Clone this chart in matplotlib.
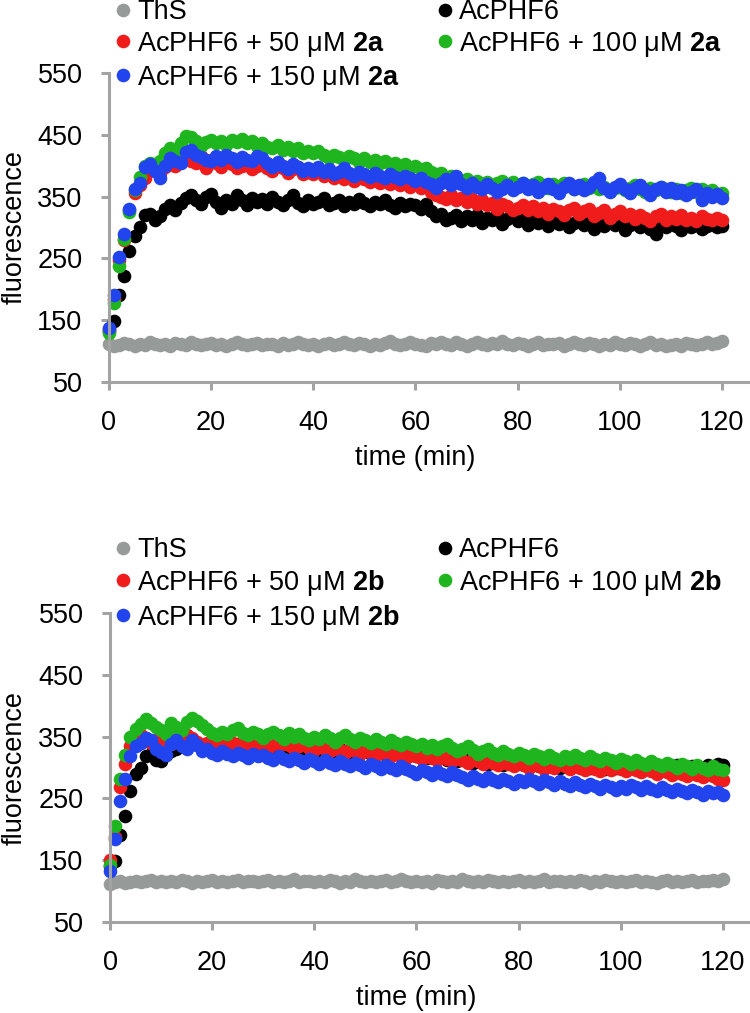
import numpy as np
import matplotlib.pyplot as plt

plt.rcParams['font.family'] = ['Liberation Sans', 'DejaVu Sans']
plt.rcParams['mathtext.fontset'] = 'custom'
plt.rcParams['mathtext.rm'] = 'Liberation Sans'
plt.rcParams['mathtext.bf'] = 'Liberation Sans:bold'

#time points, one reading per minute
time_min = list(range(0, 121))

#panel a (compound 2a), fluorescence
ths_a = [112, 108, 110, 113, 111, 109, 112, 110, 114, 111,
         110, 112, 109, 113, 111, 110, 115, 112, 110, 111,
         113, 110, 112, 109, 111, 114, 112, 110, 111, 113,
         110, 112, 111, 109, 113, 110, 112, 115, 111, 110,
         112, 109, 111, 113, 110, 112, 114, 111, 110, 113,
         111, 109, 112, 110, 113, 116, 112, 110, 111, 114,
         112, 110, 109, 113, 111, 115, 112, 110, 114, 112,
         109, 111, 114, 112, 110, 113, 111, 116, 112, 110,
         113, 111, 109, 112, 114, 110, 112, 111, 113, 109,
         111, 114, 112, 110, 113, 111, 109, 112, 110, 114,
         112, 110, 113, 111, 109, 112, 114, 110, 111, 108,
         110, 112, 109, 113, 111, 110, 112, 114, 111, 113,
         116]
phf6_a = [132, 148, 190, 222, 262, 286, 300, 320, 322, 312,
          318, 330, 336, 328, 340, 348, 352, 345, 338, 350,
          354, 342, 332, 345, 338, 352, 344, 336, 348, 342,
          346, 338, 350, 342, 336, 344, 352, 340, 334, 345,
          338, 342, 348, 336, 340, 345, 334, 342, 338, 346,
          340, 334, 342, 338, 345, 336, 332, 340, 334, 338,
          336, 330, 338, 326, 318, 322, 312, 316, 320, 310,
          318, 312, 320, 308, 316, 312, 322, 306, 314, 318,
          310, 316, 304, 312, 308, 318, 302, 310, 306, 314,
          300, 308, 312, 304, 310, 298, 306, 302, 312, 304,
          308, 296, 304, 310, 300, 306, 298, 290, 304, 300,
          308, 302, 296, 306, 300, 304, 298, 302, 306, 300,
          302]
c50_a = [135, 185, 248, 280, 328, 356, 368, 380, 395, 392,
         388, 398, 402, 400, 412, 418, 408, 404, 415, 396,
         410, 404, 398, 408, 402, 396, 400, 406, 395, 400,
         404, 396, 392, 400, 396, 388, 394, 398, 386, 390,
         386, 392, 384, 388, 380, 386, 378, 384, 376, 382,
         378, 374, 380, 372, 376, 370, 374, 368, 372, 366,
         372, 364, 366, 358, 352, 350, 346, 352, 344, 348,
         342, 346, 338, 344, 336, 340, 330, 338, 334, 328,
         332, 336, 328, 334, 326, 332, 322, 330, 326, 320,
         328, 332, 322, 326, 330, 318, 324, 328, 316, 322,
         326, 318, 322, 314, 320, 316, 310, 318, 322, 312,
         318, 314, 320, 312, 316, 310, 318, 314, 312, 316,
         312]
c100_a = [130, 178, 238, 282, 325, 360, 382, 400, 405, 402,
          408, 420, 428, 422, 436, 448, 446, 440, 432, 438,
          442, 436, 440, 434, 442, 438, 444, 436, 440, 432,
          436, 430, 428, 434, 426, 430, 424, 428, 420, 424,
          420, 424, 418, 412, 418, 414, 410, 416, 412, 406,
          412, 406, 410, 404, 408, 402, 404, 398, 402, 396,
          400, 394, 396, 390, 386, 388, 380, 384, 378, 374,
          378, 372, 376, 370, 374, 368, 372, 376, 370, 374,
          368, 372, 366, 370, 374, 368, 364, 370, 366, 372,
          368, 362, 366, 370, 364, 368, 362, 366, 360, 364,
          366, 360, 364, 368, 362, 358, 364, 360, 366, 362,
          358, 362, 356, 360, 364, 358, 362, 356, 360, 354,
          356]
c150_a = [138, 190, 252, 290, 330, 362, 372, 398, 402, 392,
          380, 400, 412, 408, 404, 422, 426, 418, 414, 410,
          408, 416, 410, 418, 412, 406, 414, 410, 408, 416,
          412, 404, 398, 406, 400, 394, 402, 398, 392, 396,
          392, 398, 390, 394, 386, 390, 396, 388, 384, 390,
          386, 382, 388, 384, 380, 386, 382, 378, 384, 380,
          376, 380, 374, 370, 364, 372, 378, 368, 384, 370,
          364, 372, 366, 362, 370, 364, 358, 362, 368, 360,
          366, 372, 362, 368, 358, 364, 370, 362, 356, 366,
          372, 362, 368, 360, 366, 374, 380, 364, 358, 366,
          370, 362, 356, 364, 368, 360, 352, 362, 366, 358,
          364, 356, 360, 352, 358, 362, 344, 356, 350, 354,
          348]

#panel b (compound 2b)
ths_b = [112, 114, 116, 113, 115, 117, 114, 116, 118, 115,
         117, 114, 116, 115, 118, 116, 113, 117, 115, 116,
         118, 115, 117, 114, 116, 118, 115, 117, 116, 114,
         116, 118, 115, 117, 114, 116, 119, 115, 117, 116,
         114, 117, 115, 118, 116, 113, 117, 115, 119, 116,
         115, 117, 114, 116, 118, 115, 117, 120, 116, 114,
         117, 115, 116, 113, 118, 116, 114, 117, 115, 119,
         116, 114, 117, 115, 118, 116, 114, 117, 115, 116,
         118, 115, 117, 114, 116, 119, 115, 117, 116, 114,
         117, 115, 118, 116, 113, 117, 115, 118, 116, 114,
         117, 115, 116, 118, 114, 117, 115, 113, 116, 118,
         115, 117, 114, 116, 118, 115, 117, 116, 118, 117,
         119]
phf6_b = [140, 148, 190, 222, 262, 290, 300, 318, 322, 312,
          310, 320, 326, 330, 334, 338, 342, 336, 330, 334,
          338, 332, 336, 340, 334, 338, 342, 336, 332, 336,
          334, 330, 336, 332, 328, 334, 330, 326, 332, 328,
          330, 326, 332, 328, 324, 330, 326, 322, 328, 324,
          326, 322, 328, 324, 320, 326, 322, 318, 324, 320,
          318, 322, 316, 320, 314, 318, 312, 316, 310, 314,
          312, 308, 314, 310, 306, 312, 308, 304, 310, 306,
          308, 304, 310, 306, 302, 308, 304, 306, 300, 304,
          306, 302, 308, 304, 300, 306, 302, 298, 304, 300,
          302, 298, 304, 300, 296, 302, 298, 300, 296, 302,
          298, 304, 300, 296, 302, 298, 300, 304, 300, 306,
          304]
c50_b = [150, 188, 268, 305, 335, 350, 352, 348, 340, 345,
         350, 344, 338, 346, 340, 352, 348, 342, 336, 340,
         344, 338, 342, 346, 340, 336, 342, 338, 334, 340,
         336, 332, 338, 334, 340, 336, 330, 334, 338, 332,
         328, 334, 330, 326, 332, 328, 324, 330, 326, 322,
         328, 324, 320, 326, 322, 318, 324, 320, 316, 322,
         318, 314, 320, 316, 312, 318, 314, 310, 316, 312,
         308, 314, 310, 306, 312, 308, 304, 310, 306, 302,
         308, 304, 300, 306, 302, 298, 304, 300, 306, 302,
         298, 304, 300, 296, 302, 298, 294, 300, 296, 302,
         298, 294, 300, 296, 292, 298, 294, 290, 296, 292,
         288, 294, 290, 286, 292, 288, 284, 290, 286, 282,
         280]
c100_b = [142, 206, 282, 320, 350, 362, 370, 378, 372, 366,
          360, 354, 372, 366, 360, 374, 380, 376, 368, 362,
          356, 352, 358, 354, 360, 364, 356, 352, 358, 354,
          348, 354, 358, 352, 346, 356, 350, 354, 348, 344,
          350, 346, 352, 348, 342, 348, 352, 346, 342, 348,
          344, 340, 346, 342, 338, 344, 340, 336, 342, 338,
          334, 338, 332, 336, 330, 334, 338, 332, 326, 330,
          334, 328, 322, 326, 330, 324, 320, 326, 322, 318,
          324, 320, 316, 322, 318, 314, 320, 316, 312, 318,
          314, 320, 316, 312, 318, 314, 310, 316, 312, 308,
          314, 310, 306, 312, 308, 304, 310, 306, 302, 308,
          304, 300, 306, 302, 298, 304, 300, 296, 302, 298,
          296]
c150_b = [132, 184, 245, 282, 318, 335, 340, 348, 344, 330,
          325, 320, 338, 345, 335, 330, 344, 336, 326, 330,
          324, 320, 326, 322, 318, 324, 320, 316, 322, 318,
          320, 316, 312, 318, 314, 310, 316, 312, 308, 314,
          310, 306, 312, 308, 304, 310, 306, 302, 308, 304,
          300, 306, 302, 298, 304, 300, 296, 302, 298, 294,
          290, 296, 292, 288, 294, 290, 286, 292, 288, 284,
          280, 286, 282, 278, 284, 280, 276, 282, 278, 274,
          280, 276, 282, 278, 274, 280, 276, 272, 278, 274,
          270, 276, 272, 268, 274, 270, 266, 272, 268, 264,
          270, 266, 272, 268, 264, 270, 266, 262, 268, 264,
          260, 266, 262, 258, 264, 260, 256, 262, 258, 260,
          256]

colors = ['#969b9a', '#000000', '#f01c1c', '#1fb51f', '#2244ee']
y_ticks = [50, 150, 250, 350, 450, 550]
x_ticks = [0, 20, 40, 60, 80, 100, 120]
axis_grey = '#a3a3a3'
fs = 19.5

fig = plt.figure(figsize=(7.5, 10.13), dpi=100)
W, H = 750.0, 1013.0

#panel definitions: data, compound name, pixel position of y=50, the left spine, first legend row
panels = [
    ([ths_a, phf6_a, c50_a, c100_a, c150_a], '2a', 382, 109, 14),
    ([ths_b, phf6_b, c50_b, c100_b, c150_b], '2b', 922, 110, 552),
]

for series, comp, y0, x0, leg_top in panels:
    h_px = 500 * 0.618
    ax = fig.add_axes([x0 / W, 1 - y0 / H, (749 - x0) / W, h_px / H])
    names = ['ThS', 'AcPHF6',
             'AcPHF6 + 50 \u03bcM $\\mathbf{%s}$' % comp,
             'AcPHF6 + 100 \u03bcM $\\mathbf{%s}$' % comp,
             'AcPHF6 + 150 \u03bcM $\\mathbf{%s}$' % comp]
    lines = []
    for vals, col, name in zip(series, colors, names):
        ln, = ax.plot(time_min, vals, 'o', color=col, markersize=9.8,
                      markeredgewidth=0, clip_on=False, label=name)
        lines.append(ln)
    ax.set_xlim(0, (749 - x0) / 5.108)
    ax.set_ylim(50, 550)
    ax.set_xticks(x_ticks)
    ax.set_yticks(y_ticks)
    ax.spines['top'].set_visible(False)
    ax.spines['right'].set_visible(False)
    for s in ['left', 'bottom']:
        ax.spines[s].set_color(axis_grey)
        ax.spines[s].set_linewidth(2.2)
    ax.tick_params(colors=axis_grey, width=2.2, length=6, labelcolor='black',
                   labelsize=fs)
    ax.tick_params(axis='x', pad=14)
    ax.tick_params(axis='y', pad=13)

    #axis labels placed in figure pixels
    fig.text(15 / W, 1 - (y0 - h_px / 2) / H, 'fluorescence', rotation=90,
             ha='center', va='center', fontsize=fs)
    fig.text((x0 + 60 * 5.108) / W, 1 - (y0 + 76) / H, 'time (min)',
             ha='center', va='center', fontsize=fs)

    #legend, column-wise order so rows read ThS/AcPHF6, 50/100, 150
    order = [0, 2, 4, 1, 3]
    fig.legend([lines[i] for i in order], [names[i] for i in order],
               loc='upper left', bbox_to_anchor=(116 / W, 1 - (leg_top - 15) / H),
               ncol=2, frameon=False, fontsize=fs, handlelength=0.5,
               handletextpad=0.28, columnspacing=1.4, labelspacing=0.18,
               borderpad=0, borderaxespad=0)

fig.savefig('out.png', dpi=100)
